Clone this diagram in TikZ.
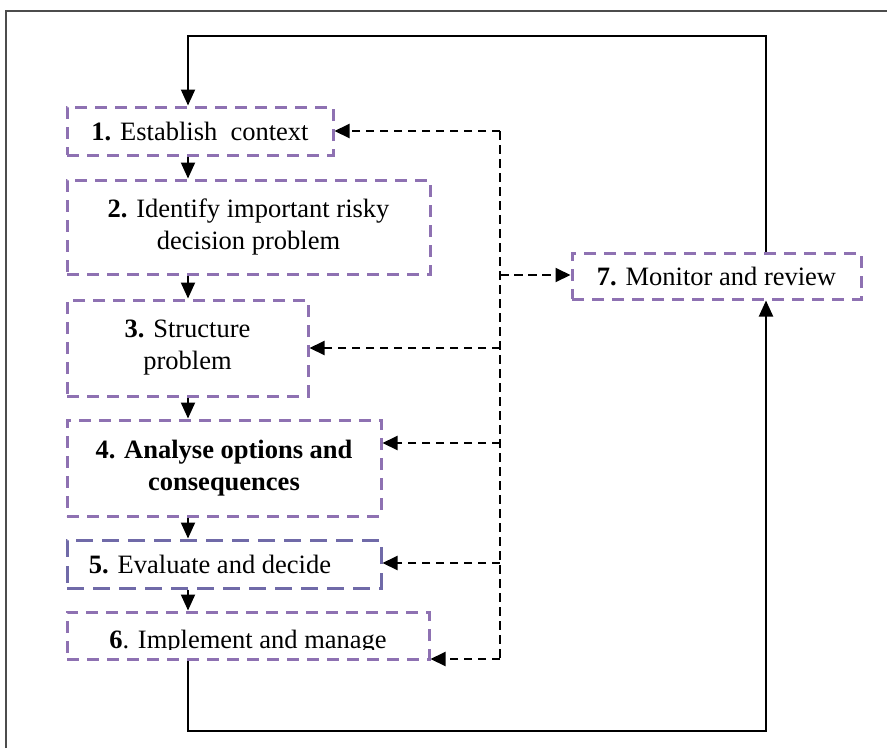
\documentclass[tikz,border=0pt]{standalone}
\usepackage{fontspec}
\setmainfont{Liberation Serif}
\usetikzlibrary{arrows.meta}
\definecolor{boxpurple}{RGB}{142,113,178}
\definecolor{boxblue}{RGB}{112,106,168}
\tikzset{
  box/.style={draw=boxpurple, line width=3pt, dash pattern=on 12pt off 8pt,
    rectangle, inner sep=0pt, align=center,
    font=\fontsize{26.5}{32}\selectfont},
  arr/.style={draw=black, line width=2pt,
    -{Triangle[length=16pt,width=14pt]}},
  darr/.style={draw=black, line width=2pt, dash pattern=on 8.5pt off 5.5pt,
    -{Triangle[length=15pt,width=14pt]}},
  dline/.style={draw=black, line width=2pt, dash pattern=on 8.5pt off 5.5pt},
  frameline/.style={draw=black!70, line width=1.5pt}
}
\begin{document}
\begin{tikzpicture}[x=1pt,y=-1pt]
\useasboundingbox (0,0) rectangle (887,748);
% frame
\coordinate (fa) at (6,748);
\coordinate (fb) at (6,11);
\coordinate (fc) at (887,11);
\draw[frameline] (fa) -- (fb) -- (fc);
% boxes
\node[box, minimum width=266pt, minimum height=48pt] (n1) at (200,131)
  {\textbf{1.} Establish\ \ context};
\node[box, minimum width=363pt, minimum height=94pt] (n2) at (248.5,227)
  {\textbf{2.} Identify important risky\\decision problem};
\node[box, minimum width=241pt, minimum height=96pt] (n3) at (187.5,348)
  {\textbf{3.} Structure\\problem};
\node[box, minimum width=314pt, minimum height=96pt] (n4) at (224,468)
  {\textbf{4. Analyse options and}\\\textbf{consequences}};
\node[box, draw=boxblue, dash pattern=on 17pt off 9pt, minimum width=314pt, minimum height=48pt] (n5) at (224,564)
  {\hspace*{-28pt}\textbf{5.} Evaluate and decide};
\node[box, minimum width=362pt, minimum height=47pt] (n6) at (248,635.5) {};
\begin{scope}
  \clip (70,600) rectangle (426,649);
  \node[anchor=base, inner sep=0pt, font=\fontsize{26.5}{32}\selectfont] (n6t) at (248,648)
    {\textbf{6}. Implement and manage};
\end{scope}
\node[box, minimum width=289pt, minimum height=46pt] (n7) at (716.5,276)
  {\textbf{7.} Monitor and review};
% helper coordinates
\coordinate (spine) at (188,0);
\coordinate (rt) at (766,0);
\coordinate (topy) at (0,36);
\coordinate (boty) at (0,731);
\coordinate (busT) at (500,131);
\coordinate (busB) at (500,659);
% main chain
\draw[arr] (n1.south -| spine) -- (n2.north -| spine);
\draw[arr] (n2.south -| spine) -- (n3.north -| spine);
\draw[arr] (n3.south -| spine) -- (n4.north -| spine);
\draw[arr] (n4.south -| spine) -- (n5.north -| spine);
\draw[arr] (n5.south -| spine) -- (n6.north -| spine);
% loops
\draw[arr] (n7.north -| rt) -- (rt |- topy) -- (spine |- topy) -- (n1.north -| spine);
\draw[arr] (n6.south -| spine) -- (spine |- boty) -- (rt |- boty) -- (n7.south -| rt);
% dashed bus
\draw[dline] (busT) -- (busB);
\draw[darr] (busT) -- (n1.east |- busT);
\draw[darr] (500,275) -- (n7.west |- 0,275);
\draw[darr] (500,348) -- (n3.east |- 0,348);
\draw[darr] (500,443) -- (n4.east |- 0,443);
\draw[darr] (500,563) -- (n5.east |- 0,563);
\draw[darr] (busB) -- (n6.east |- busB);
\end{tikzpicture}
\end{document}
